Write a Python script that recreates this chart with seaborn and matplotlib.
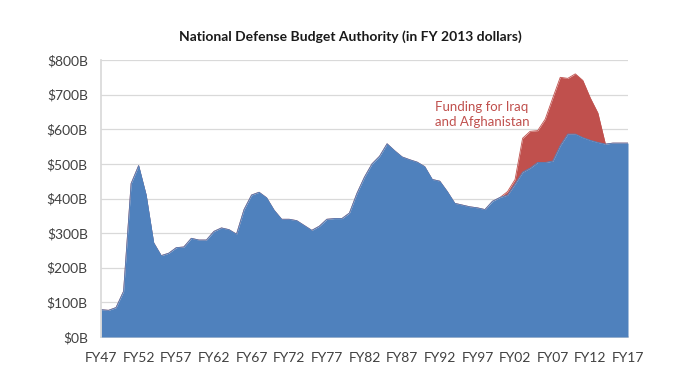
"""National Defense Budget Authority area chart (FY2013 dollars), base + war funding."""

import pandas as pd
import seaborn as sns
import matplotlib.pyplot as plt

# fiscal years FY47..FY17
years = list(range(1947, 2018))

# base budget, $B (blue area)
base_budget = [
    79, 77, 85, 132, 443, 495, 410, 272, 235, 242,
    258, 260, 285, 280, 280, 305, 315, 310, 297, 368,
    410, 418, 402, 366, 340, 340, 336, 322, 308, 320,
    340, 342, 342, 358, 415, 462, 500, 522, 558, 538,
    520, 512, 505, 492, 455, 450, 420, 386, 381, 376,
    373, 368, 392, 403, 410, 442, 476, 488, 504, 504,
    508, 553, 586, 586, 576, 568, 562, 557, 560, 560,
    560,
]

# Iraq / Afghanistan funding on top of the base, $B (red area)
war_years = list(range(2000, 2015))
war_funding = [0, 10, 13, 98, 106, 92, 125, 182, 197, 161, 174, 165, 122, 85, 0]

y_ticks = [0, 100, 200, 300, 400, 500, 600, 700, 800]
y_tick_labels = ['$0B', '$100B', '$200B', '$300B', '$400B', '$500B', '$600B', '$700B', '$800B']
x_ticks = list(range(1947, 2018, 5))
x_tick_labels = ['FY47', 'FY52', 'FY57', 'FY62', 'FY67', 'FY72', 'FY77', 'FY82',
                 'FY87', 'FY92', 'FY97', 'FY02', 'FY07', 'FY12', 'FY17']

BLUE = '#4F81BD'
RED = '#C0504D'
TEXT = '#404040'

sns.set_theme(style='white')
plt.rcParams['font.family'] = ['Lato', 'DejaVu Sans']

df = pd.DataFrame({'year': years, 'base': base_budget})
war = pd.DataFrame({'year': war_years, 'war': war_funding})
df = df.merge(war, on='year', how='left').fillna({'war': 0})
df['total'] = df['base'] + df['war']

fig = plt.figure(figsize=(6.79, 3.77), dpi=100)
ax = fig.add_axes([101 / 679, 1 - 337 / 377, 527 / 679, 277 / 377])

ax.fill_between(df['year'], df['base'], df['total'], color=RED, lw=0, zorder=2)
ax.fill_between(df['year'], 0, df['base'], color=BLUE, lw=0, zorder=3)
sns.lineplot(data=df, x='year', y='total', color=RED, lw=0.6, ax=ax, zorder=2)
sns.lineplot(data=df, x='year', y='base', color=BLUE, lw=0.6, ax=ax, zorder=3)

ax.set_xlim(1947, 2017)
ax.set_ylim(0, 800)
ax.set_yticks(y_ticks)
ax.set_yticklabels(y_tick_labels)
ax.set_xticks(x_ticks)
ax.set_xticklabels(x_tick_labels)
ax.set_xticks(years, minor=True)
ax.set_xlabel('')
ax.set_ylabel('')

ax.grid(axis='y', color='#D9D9D9', lw=0.9, zorder=0)
ax.set_axisbelow(True)
for side in ['top', 'right']:
    ax.spines[side].set_visible(False)
ax.spines['left'].set_color('#D9D9D9')
ax.spines['bottom'].set_color('#D9D9D9')
ax.spines['left'].set_zorder(5)

ax.tick_params(axis='y', length=0, pad=9.5, labelsize=10, labelcolor=TEXT)
ax.tick_params(axis='x', which='major', length=4, width=0.8, color='#D0D0D0',
               direction='out', pad=7, labelsize=10, labelcolor=TEXT)
ax.tick_params(axis='x', which='minor', length=4, width=0.8, color='#D0D0D0',
               direction='out')

ax.text(1991.4, 642, 'Funding for Iraq\nand Afghanistan', color=RED, fontsize=9.5,
        ha='left', va='center', linespacing=1.3, zorder=6)

fig.text(350 / 679, 1 - 37 / 377, 'National Defense Budget Authority (in FY 2013 dollars)',
         ha='center', va='center', fontsize=10, fontweight='bold', color='#1a1a1a')

fig.savefig('out.png', dpi=100)
